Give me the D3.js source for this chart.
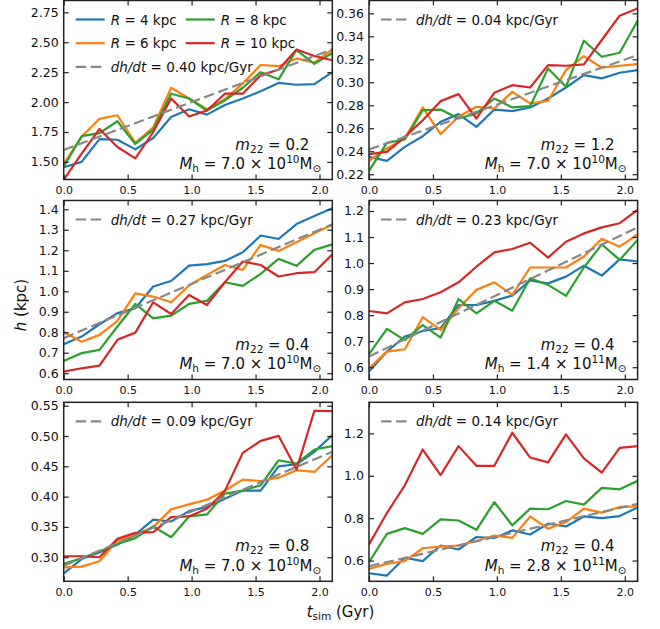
<!DOCTYPE html>
<html>
<head>
<meta charset="utf-8">
<script src="https://cdn.jsdelivr.net/npm/d3@7"></script>
<style>
body { margin: 0; background: #fff; }
svg text { font-family: "DejaVu Sans", sans-serif; fill: #111; }
</style>
</head>
<body>
<svg id="chart" width="660" height="629"></svg>
<script>
// simulation times (Gyr)
const tGyr = [0.00, 0.14, 0.28, 0.42, 0.56, 0.70, 0.84, 0.98, 1.12, 1.26, 1.40, 1.54, 1.68, 1.82, 1.96, 2.10];
const radii = ["4", "6", "8", "10"];
const xTicks = [0, 0.5, 1.0, 1.5, 2.0];

// panel A: m22 = 0.2, Mh = 7.0e10
const hA4  = [1.455, 1.50, 1.69, 1.685, 1.605, 1.70, 1.875, 1.94, 1.895, 1.975, 2.03, 2.09, 2.16, 2.145, 2.15, 2.25];
const hA6  = [1.486, 1.71, 1.86, 1.89, 1.66, 1.79, 2.12, 2.03, 1.94, 2.025, 2.155, 2.31, 2.30, 2.365, 2.33, 2.44];
const hA8  = [1.46, 1.715, 1.74, 1.84, 1.65, 1.77, 2.07, 2.03, 1.93, 2.015, 2.12, 2.25, 2.19, 2.435, 2.32, 2.41];
const hA10 = [1.35, 1.57, 1.775, 1.625, 1.53, 1.75, 2.03, 1.88, 1.93, 2.07, 2.07, 2.225, 2.27, 2.44, 2.385, 2.35];

// panel B: m22 = 1.2, Mh = 7.0e10
const hB4  = [0.2351, 0.2316, 0.2438, 0.2531, 0.2656, 0.2723, 0.2612, 0.2763, 0.2749, 0.2781, 0.2859, 0.2955, 0.3063, 0.3034, 0.3083, 0.3106];
const hB6  = [0.2316, 0.2424, 0.2511, 0.2781, 0.2549, 0.2700, 0.2787, 0.2772, 0.2917, 0.2816, 0.2839, 0.3106, 0.3228, 0.3127, 0.3144, 0.3158];
const hB8  = [0.2229, 0.2473, 0.2502, 0.2758, 0.2763, 0.2685, 0.2729, 0.2859, 0.2781, 0.2792, 0.3121, 0.2961, 0.3362, 0.3222, 0.3257, 0.3536];
const hB10 = [0.2374, 0.2395, 0.2525, 0.2670, 0.2836, 0.2897, 0.2685, 0.2909, 0.2975, 0.2955, 0.3150, 0.3144, 0.3156, 0.3368, 0.3580, 0.3643];

// panel C: m22 = 0.4, Mh = 7.0e10
const hC4  = [0.741, 0.779, 0.839, 0.893, 0.917, 1.023, 1.05, 1.125, 1.132, 1.148, 1.19, 1.272, 1.255, 1.328, 1.367, 1.405];
const hC6  = [0.80, 0.754, 0.787, 0.855, 0.99, 0.974, 0.946, 1.028, 1.08, 1.128, 1.104, 1.226, 1.197, 1.239, 1.283, 1.324];
const hC8  = [0.66, 0.698, 0.714, 0.828, 0.938, 0.868, 0.881, 0.938, 0.953, 1.044, 1.026, 1.085, 1.158, 1.124, 1.202, 1.229];
const hC10 = [0.608, 0.624, 0.637, 0.763, 0.798, 0.946, 0.889, 0.982, 0.933, 1.044, 1.145, 1.128, 1.072, 1.088, 1.093, 1.18];

// panel D: m22 = 0.4, Mh = 1.4e11
const hD4  = [0.583, 0.66, 0.718, 0.739, 0.75, 0.839, 0.839, 0.855, 0.875, 0.933, 0.922, 0.948, 0.99, 0.952, 1.014, 1.006];
const hD6  = [0.596, 0.66, 0.669, 0.792, 0.743, 0.826, 0.897, 0.926, 0.878, 0.983, 0.983, 0.983, 1.025, 1.093, 1.063, 1.11];
const hD8  = [0.65, 0.747, 0.704, 0.762, 0.714, 0.862, 0.807, 0.855, 0.817, 0.942, 0.916, 0.874, 0.983, 1.072, 1.012, 1.089];
const hD10 = [0.816, 0.807, 0.849, 0.862, 0.888, 0.926, 0.986, 1.041, 1.054, 1.078, 1.021, 1.082, 1.114, 1.137, 1.153, 1.204];

// panel E: m22 = 0.8, Mh = 7.0e10
const hE4  = [0.2735, 0.297, 0.308, 0.321, 0.3375, 0.362, 0.359, 0.376, 0.383, 0.3966, 0.41, 0.41, 0.45, 0.4534, 0.474, 0.5015];
const hE6  = [0.2834, 0.2845, 0.2934, 0.3276, 0.3375, 0.3497, 0.379, 0.3872, 0.395, 0.41, 0.428, 0.4258, 0.4313, 0.4435, 0.4407, 0.4683];
const hE8  = [0.289, 0.2983, 0.3094, 0.322, 0.3315, 0.3508, 0.333, 0.3673, 0.3706, 0.4049, 0.41, 0.4187, 0.46, 0.4545, 0.4777, 0.4832];
const hE10 = [0.3016, 0.3016, 0.30, 0.3303, 0.3403, 0.3414, 0.3662, 0.3673, 0.38, 0.4093, 0.4722, 0.492, 0.5003, 0.4446, 0.5417, 0.5412];

// panel F: m22 = 0.4, Mh = 2.8e11
const hF4  = [0.54, 0.529, 0.613, 0.597, 0.671, 0.652, 0.711, 0.706, 0.742, 0.723, 0.774, 0.761, 0.808, 0.80, 0.81, 0.85];
const hF6  = [0.5605, 0.584, 0.597, 0.658, 0.666, 0.671, 0.692, 0.718, 0.707, 0.808, 0.75, 0.7815, 0.845, 0.826, 0.853, 0.856];
const hF8  = [0.592, 0.726, 0.753, 0.726, 0.794, 0.789, 0.745, 0.876, 0.766, 0.845, 0.842, 0.881, 0.864, 0.943, 0.936, 0.976];
const hF10 = [0.676, 0.824, 0.955, 1.124, 1.003, 1.14, 1.047, 1.047, 1.203, 1.086, 1.063, 1.195, 1.082, 1.015, 1.132, 1.14];

// per-panel labels and linear fit (value at t=0 and at t=2.1)
const m22Labels   = ["0.2", "1.2", "0.4", "0.4", "0.8", "0.4"];
const mhMantissa  = ["7.0", "7.0", "7.0", "1.4", "7.0", "2.8"];
const mhExponent  = ["10", "10", "10", "11", "10", "11"];
const slopeLabels = ["0.40", "0.04", "0.27", "0.23", "0.09", "0.14"];
const fitStart    = [1.60, 0.2415, 0.771, 0.641, 0.286, 0.573];
const fitEnd      = [2.44, 0.3237, 1.327, 1.137, 0.474, 0.868];

const yTickSets = [
  [1.50, 1.75, 2.00, 2.25, 2.50, 2.75],
  [0.22, 0.24, 0.26, 0.28, 0.30, 0.32, 0.34, 0.36],
  [0.6, 0.7, 0.8, 0.9, 1.0, 1.1, 1.2, 1.3, 1.4],
  [0.6, 0.7, 0.8, 0.9, 1.0, 1.1, 1.2],
  [0.30, 0.35, 0.40, 0.45, 0.50, 0.55],
  [0.6, 0.8, 1.0, 1.2]
];
const yFormats = [".2f", ".2f", ".1f", ".1f", ".2f", ".1f"];

const panelSeries = [
  [hA4, hA6, hA8, hA10],
  [hB4, hB6, hB8, hB10],
  [hC4, hC6, hC8, hC10],
  [hD4, hD6, hD8, hD10],
  [hE4, hE6, hE8, hE10],
  [hF4, hF6, hF8, hF10]
];

// ---- layout / style ----
const colors = ["#1f77b4", "#ff7f0e", "#2ca02c", "#d62728"];
const colX = [63.7, 369];
const rowY = [0.5, 200.5, 402.3];
const pw = 268.6, ph = 179;
const yDomains = [
  [1.353, 2.849], [0.2154, 0.3712],
  [0.5693, 1.4429], [0.5528, 1.2403],
  [0.2603, 0.5556], [0.502, 1.3468]
];

const svg = d3.select("#chart");

function richText(g, x, y, parts, size, anchor) {
  const txt = g.append("text")
    .attr("x", x).attr("y", y)
    .attr("text-anchor", anchor)
    .style("font-size", size + "px");
  let shift = 0;
  parts.forEach(function(p) {
    const target = p.sub ? size * 0.2 : (p.sup ? -size * 0.4 : 0);
    const ts = txt.append("tspan")
      .attr("dy", target - shift)
      .style("font-size", (p.sub || p.sup) ? (size * 0.7) + "px" : size + "px")
      .text(p.t);
    if (p.it) ts.style("font-style", "italic");
    shift = target;
  });
  return txt;
}

panelSeries.forEach(function(series, k) {
  const col = k % 2, row = Math.floor(k / 2);
  const g = svg.append("g")
    .attr("transform", "translate(" + colX[col] + "," + rowY[row] + ")");

  const x = d3.scaleLinear().domain([0, 2.1]).range([0, pw]);
  const y = d3.scaleLinear().domain(yDomains[k]).range([ph, 0]);

  g.append("clipPath").attr("id", "clip" + k)
    .append("rect").attr("width", pw).attr("height", ph);

  const line = d3.line()
    .x(function(d, i) { return x(tGyr[i]); })
    .y(function(d) { return y(d); });

  const plot = g.append("g").attr("clip-path", "url(#clip" + k + ")");
  series.forEach(function(s, j) {
    plot.append("path")
      .attr("d", line(s))
      .attr("fill", "none")
      .attr("stroke", colors[j])
      .attr("stroke-width", 2.2)
      .attr("stroke-linejoin", "round");
  });

  plot.append("line")
    .attr("x1", x(0)).attr("y1", y(fitStart[k]))
    .attr("x2", x(2.1)).attr("y2", y(fitEnd[k]))
    .attr("stroke", "#888")
    .attr("stroke-width", 2.2)
    .attr("stroke-dasharray", "10.5,4.5");

  // axes, ticks pointing in
  const axL = d3.axisLeft(y).tickValues(yTickSets[k]).tickFormat(d3.format(yFormats[k]))
    .tickSize(-5).tickPadding(5);
  const axR = d3.axisRight(y).tickValues(yTickSets[k]).tickFormat("").tickSize(-5);
  const axB = d3.axisBottom(x).tickValues(xTicks).tickFormat(d3.format(".1f"))
    .tickSize(-5).tickPadding(7);
  const axT = d3.axisTop(x).tickValues(xTicks).tickFormat("").tickSize(-5);

  const gl = g.append("g").call(axL);
  g.append("g").attr("transform", "translate(" + pw + ",0)").call(axR);
  const gb = g.append("g").attr("transform", "translate(0," + ph + ")").call(axB);
  g.append("g").call(axT);

  g.selectAll(".domain").remove();
  g.selectAll(".tick line").attr("stroke", "#222").attr("stroke-width", 1.2);
  gl.selectAll("text").style("font-size", "12.5px").attr("fill", "#111");
  gb.selectAll("text").style("font-size", "11px").attr("fill", "#111");

  g.append("rect")
    .attr("width", pw).attr("height", ph)
    .attr("fill", "none").attr("stroke", "#222").attr("stroke-width", 1.5);

  // legend
  const lg = g.append("g");
  function legendRow(cx, cy, dashed, color) {
    lg.append("line")
      .attr("x1", cx).attr("x2", cx + 29)
      .attr("y1", cy).attr("y2", cy)
      .attr("stroke", color).attr("stroke-width", 2.2)
      .attr("stroke-dasharray", dashed ? "10.5,4.5" : null);
  }
  if (k === 0) {
    radii.forEach(function(r, j) {
      const c = Math.floor(j / 2), rr = j % 2;
      const cx = c === 0 ? 12 : 122, cy = 19 + rr * 23.7;
      legendRow(cx, cy, false, colors[j]);
      richText(lg, cx + 35, cy + 5, [{t: "R", it: true}, {t: " = " + r + " kpc"}], 13.5, "start");
    });
  }
  const dy = k === 0 ? 19 + 2 * 23.7 : 19;
  legendRow(12, dy, true, "#888");
  richText(lg, 47, dy + 5, [{t: "dh/dt", it: true}, {t: " = " + slopeLabels[k] + " kpc/Gyr"}], 13.5, "start");

  // annotation
  richText(g, pw - 23, ph - 30, [
    {t: "m", it: true}, {t: "22", sub: true}, {t: " = " + m22Labels[k]}
  ], 15, "end");
  richText(g, pw - 11, ph - 10.5, [
    {t: "M", it: true}, {t: "h", sub: true},
    {t: " = " + mhMantissa[k] + " \u00d7 10"}, {t: mhExponent[k], sup: true},
    {t: "M"}, {t: "\u2299", sub: true}
  ], 15, "end");
});

// axis labels
richText(svg, 0, 0, [{t: "h", it: true}, {t: " (kpc)"}], 15, "middle")
  .attr("transform", "translate(26,305) rotate(-90)");
richText(svg, 340.5, 617, [{t: "t", it: true}, {t: "sim", sub: true}, {t: " (Gyr)"}], 15, "middle");
</script>
</body>
</html>
